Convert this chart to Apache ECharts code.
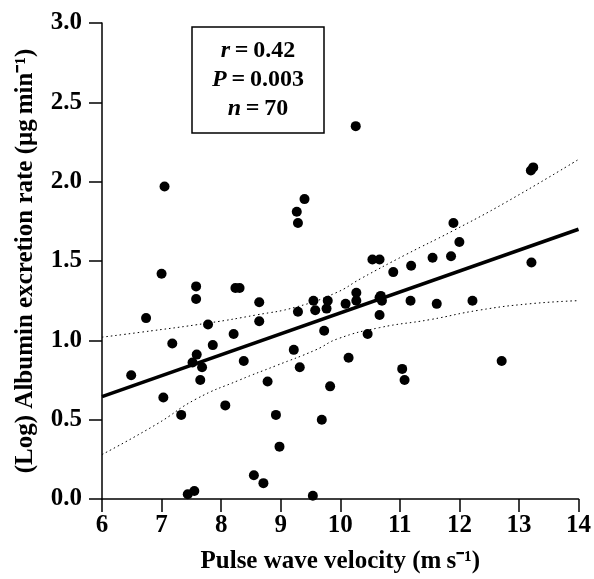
<!DOCTYPE html>
<html>
<head>
<meta charset="utf-8">
<script src="https://cdn.jsdelivr.net/npm/echarts@6/dist/echarts.min.js"></script>
<style>html,body{margin:0;padding:0;background:#fff}#c{width:594px;height:579px}</style>
</head>
<body>
<div id="c"></div>
<script>
const xTicks = [6, 7, 8, 9, 10, 11, 12, 13, 14];
const yTicks = [0.0, 0.5, 1.0, 1.5, 2.0, 2.5, 3.0];
const pwv = [7.05,9.40,9.27,9.29,7.00,7.58,7.58,8.24,8.31,8.64,9.29,9.55,9.58,9.79,9.77,6.74,7.78,8.64,9.73,7.18,8.21,7.86,7.59,7.52,7.68,7.65,8.38,9.22,9.32,8.78,9.83,6.49,7.03,8.07,7.33,8.92,9.69,8.98,8.55,7.44,7.55,8.71,9.54,10.26,13.24,13.20,11.90,12.00,10.54,10.66,11.19,11.55,11.86,10.89,13.21,10.09,10.27,10.27,10.68,10.70,10.66,11.18,11.62,12.22,10.46,10.14,11.04,11.08,12.71,10.66];
const aer = [1.97,1.89,1.81,1.74,1.42,1.34,1.26,1.33,1.33,1.24,1.18,1.25,1.19,1.25,1.20,1.14,1.10,1.12,1.06,0.98,1.04,0.97,0.91,0.86,0.83,0.75,0.87,0.94,0.83,0.74,0.71,0.78,0.64,0.59,0.53,0.53,0.50,0.33,0.15,0.03,0.05,0.10,0.02,2.35,2.09,2.07,1.74,1.62,1.51,1.51,1.47,1.52,1.53,1.43,1.49,1.23,1.30,1.25,1.28,1.25,1.16,1.25,1.23,1.25,1.04,0.89,0.82,0.75,0.87,1.27];
const fitX = [6, 14];
const fitY = [0.645, 1.70];
const upperX = [6.0, 6.63, 7.80, 8.59, 9.26, 9.93, 10.35, 11.10, 11.89, 12.78, 14.0];
const upperY = [1.02, 1.05, 1.11, 1.16, 1.21, 1.30, 1.39, 1.54, 1.69, 1.87, 2.14];
const lowerX = [6.0, 6.91, 7.58, 8.31, 8.92, 9.59, 9.96, 10.66, 11.5, 12.33, 13.17, 14.0];
const lowerY = [0.28, 0.47, 0.63, 0.75, 0.84, 0.94, 1.01, 1.08, 1.13, 1.19, 1.23, 1.25];
const statLabels = ['r', 'P', 'n'];
const statValues = ['0.42', '0.003', '70'];

const zip = (a, b) => a.map((v, i) => [v, b[i]]);
const font = 'Liberation Serif';
const chart = echarts.init(document.getElementById('c'), null, {renderer: 'canvas'});
chart.setOption({
  animation: false,
  backgroundColor: '#fff',
  grid: {left: 102, right: 15, top: 23, bottom: 79},
  xAxis: {
    type: 'value', min: 6, max: 14, interval: 1,
    name: 'Pulse wave velocity (m\u2009s\u207B\u00B9)',
    nameLocation: 'middle', nameGap: 50,
    nameTextStyle: {fontFamily: font, fontWeight: 'bold', fontSize: 25, color: '#000'},
    axisLine: {lineStyle: {color: '#000', width: 1.5}},
    axisTick: {length: 13, lineStyle: {color: '#000', width: 1.5}},
    axisLabel: {fontFamily: font, fontWeight: 'bold', fontSize: 25, color: '#000', margin: 14,
      formatter: v => xTicks.includes(v) ? String(v) : ''},
    splitLine: {show: false}
  },
  yAxis: {
    type: 'value', min: 0, max: 3, interval: 0.5,
    name: '(Log) Albumin excretion rate (\u03BCg\u2009min\u207B\u00B9)',
    nameLocation: 'middle', nameGap: 64,
    nameTextStyle: {fontFamily: font, fontWeight: 'bold', fontSize: 25, color: '#000'},
    axisLine: {lineStyle: {color: '#000', width: 1.5}},
    axisTick: {length: 13, lineStyle: {color: '#000', width: 1.5}},
    axisLabel: {fontFamily: font, fontWeight: 'bold', fontSize: 25, color: '#000', margin: 20,
      formatter: v => yTicks.includes(v) ? v.toFixed(1) : ''},
    splitLine: {show: false}
  },
  series: [
    {type: 'line', data: zip(upperX, upperY), smooth: true, symbol: 'none', z: 1,
      lineStyle: {color: '#000', width: 1, type: [1.5, 3]}},
    {type: 'line', data: zip(lowerX, lowerY), smooth: true, symbol: 'none', z: 1,
      lineStyle: {color: '#000', width: 1, type: [1.5, 3]}},
    {type: 'line', data: zip(fitX, fitY), symbol: 'none', z: 2,
      lineStyle: {color: '#000', width: 3.5}},
    {type: 'scatter', data: zip(pwv, aer), symbol: 'circle', symbolSize: 10, z: 3,
      itemStyle: {color: '#000', opacity: 1}}
  ],
  graphic: [
    {type: 'rect', x: 192, y: 27, z: 10,
      shape: {width: 132, height: 106},
      style: {fill: '#fff', stroke: '#000', lineWidth: 1.5}},
    {type: 'text', x: 258, y: 36, z: 11,
      style: {
        align: 'center', verticalAlign: 'top',
        text: statLabels.map((l, i) => '{i|' + l + '}{n|\u2009=\u2009' + statValues[i] + '}').join('\n'),
        rich: {
          i: {fontFamily: font, fontWeight: 'bold', fontStyle: 'italic', fontSize: 24, lineHeight: 29, fill: '#000'},
          n: {fontFamily: font, fontWeight: 'bold', fontSize: 24, lineHeight: 29, fill: '#000'}
        }
      }}
  ]
});
</script>
</body>
</html>
